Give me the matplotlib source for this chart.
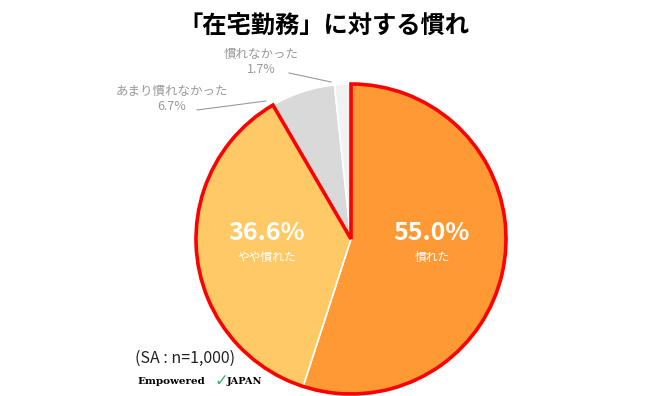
import matplotlib
matplotlib.use("Agg")
import matplotlib.pyplot as plt
from matplotlib.patches import Wedge

plt.rcParams['font.family'] = ['Noto Sans CJK JP', 'DejaVu Sans']

labels = ['慣れた', 'やや慣れた', 'あまり慣れなかった', '慣れなかった']
values = [55.0, 36.6, 6.7, 1.7]
colors = ['#FF9933', '#FFC966', '#D9D9D9', '#F2F2F2']

W, H = 650, 396
fig = plt.figure(figsize=(W / 100, H / 100), dpi=100)
ax = fig.add_axes([0, 0, 1, 1])

cx, cy, r = 351, H - 239, 155
wedges, _ = ax.pie(values, colors=colors, startangle=90, counterclock=False,
                   center=(cx, cy), radius=r,
                   wedgeprops=dict(edgecolor='white', linewidth=1.2))

# red outline around the "慣れた" + "やや慣れた" part
t1 = 90 - (values[0] + values[1]) / 100 * 360
ax.add_patch(Wedge((cx, cy), r, t1, 90, fill=False, edgecolor='#FF0000',
                   linewidth=2.6, joinstyle='miter', zorder=5))

ax.set_xlim(0, W)
ax.set_ylim(0, H)
ax.set_aspect('equal')
ax.axis('off')

def py(y):
    return H - y

# inside labels
ax.text(432, py(233), '%.1f%%' % values[0], color='white', fontsize=18,
        fontweight='bold', ha='center', va='center', zorder=6)
ax.text(432, py(257), labels[0], color='white', fontsize=8.5,
        ha='center', va='center', zorder=6)
ax.text(267, py(233), '%.1f%%' % values[1], color='white', fontsize=18,
        fontweight='bold', ha='center', va='center', zorder=6)
ax.text(267, py(257), labels[1], color='white', fontsize=8.5,
        ha='center', va='center', zorder=6)

# outside labels with leader lines
grey = '#999999'
ax.text(261, py(62), labels[3] + '\n%.1f%%' % values[3], color=grey,
        fontsize=9, ha='center', va='center', linespacing=1.25)
ax.plot([289, 331], [py(73), py(82)], color=grey, lw=0.8)
ax.text(172, py(99), labels[2] + '\n%.1f%%' % values[2], color=grey,
        fontsize=9, ha='center', va='center', linespacing=1.25)
ax.plot([197, 266], [py(110), py(101)], color=grey, lw=0.8)

# title
ax.text(324, py(27), '「在宅勤務」に対する慣れ', fontsize=17.5, fontweight='bold',
        ha='center', va='center', color='black')

# footnote and logo
ax.text(135, py(358), '(SA : n=1,000)', fontsize=11.5, ha='left', va='center',
        color='#222222')
ax.text(137, py(381), 'Empowered', fontsize=7.5, fontweight='bold',
        family='DejaVu Serif', ha='left', va='center', color='black')
ax.text(221, py(381), '✓', fontsize=12, ha='center', va='center',
        color='#3CB371', family='DejaVu Sans')
ax.text(227, py(381), 'JAPAN', fontsize=7, fontweight='bold',
        family='DejaVu Serif', ha='left', va='center', color='black')

fig.savefig('out.png', dpi=100, transparent=True)
